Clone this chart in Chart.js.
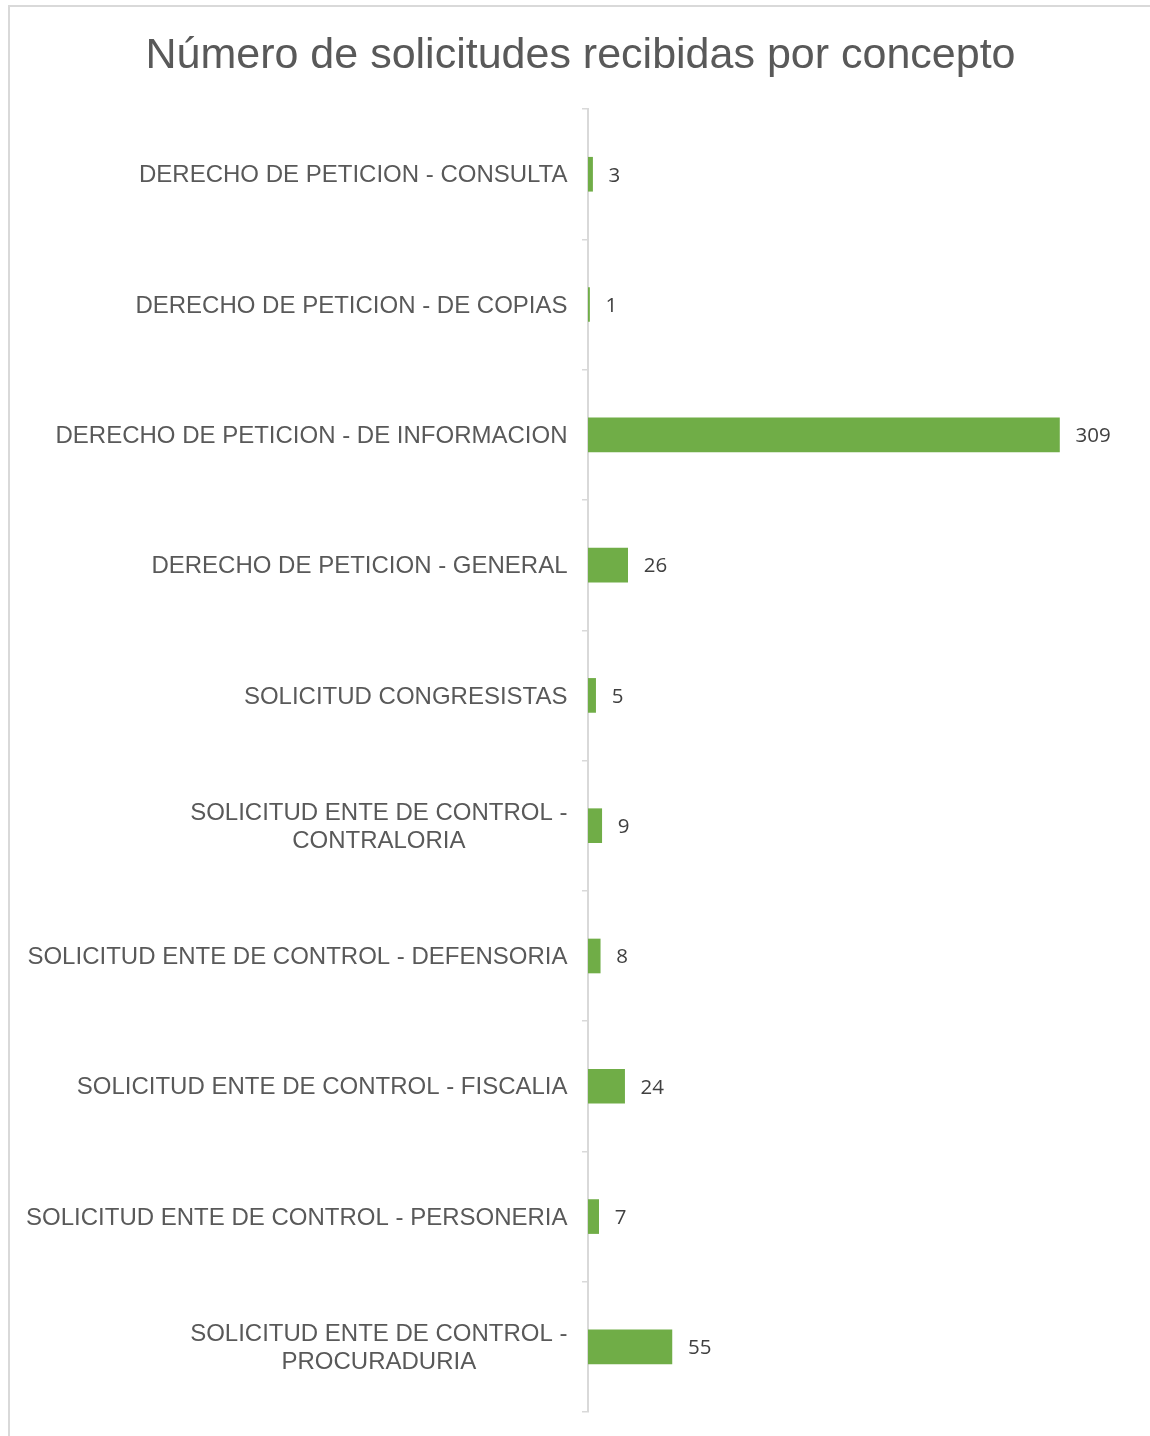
<!DOCTYPE html>
<html>
<head>
<meta charset="utf-8">
<script src="https://cdn.jsdelivr.net/npm/chart.js@4/dist/chart.umd.min.js"></script>
<style>
    body { margin: 0; background: #fff; overflow: hidden; }
    #frame {
        position: absolute; left: 8px; top: 5px;
        width: 1160px; height: 1450px;
        border: 2px solid #d9d9d9;
    }
    #box { position: absolute; left: 0; top: 0; width: 1141px; height: 1429px; }
</style>
</head>
<body>
<div id="frame"><div id="box"><canvas id="myChart"></canvas></div></div>
<script>
// Chart data
const titleText = 'Número de solicitudes recibidas por concepto';
const categories = [
    'DERECHO DE PETICION - CONSULTA',
    'DERECHO DE PETICION - DE COPIAS',
    'DERECHO DE PETICION - DE INFORMACION',
    'DERECHO DE PETICION - GENERAL',
    'SOLICITUD CONGRESISTAS',
    ['SOLICITUD ENTE DE CONTROL -', 'CONTRALORIA'],
    'SOLICITUD ENTE DE CONTROL - DEFENSORIA',
    'SOLICITUD ENTE DE CONTROL - FISCALIA',
    'SOLICITUD ENTE DE CONTROL - PERSONERIA',
    ['SOLICITUD ENTE DE CONTROL -', 'PROCURADURIA']
];
const requestCounts = [3, 1, 309, 26, 5, 9, 8, 24, 7, 55];

const AXIS_X = 578;

// Category labels: right-aligned block, lines centred to each other
const categoryLabels = {
    id: 'categoryLabels',
    afterDraw(chart) {
        const ctx = chart.ctx;
        const scale = chart.scales.y;
        ctx.save();
        ctx.font = '24px "Liberation Sans", Arial, sans-serif';
        ctx.fillStyle = '#595959';
        ctx.textAlign = 'center';
        ctx.textBaseline = 'middle';
        categories.forEach((label, i) => {
            const lines = Array.isArray(label) ? label : [label];
            const maxW = Math.max(...lines.map(l => ctx.measureText(l).width));
            const cx = AXIS_X - 20.5 - maxW / 2;
            const cy = scale.getPixelForTick(i) + 1.5;
            const lh = 28;
            lines.forEach((line, j) => {
                ctx.fillText(line, cx, cy - (lines.length - 1) * lh / 2 + j * lh);
            });
        });
        ctx.restore();
    }
};

// Value labels to the right of each bar
const valueLabels = {
    id: 'valueLabels',
    afterDatasetsDraw(chart) {
        const ctx = chart.ctx;
        const meta = chart.getDatasetMeta(0);
        ctx.save();
        ctx.font = '20.5px "Open Sans", sans-serif';
        ctx.fillStyle = '#404040';
        ctx.textAlign = 'left';
        ctx.textBaseline = 'middle';
        meta.data.forEach((bar, i) => {
            ctx.fillText(String(requestCounts[i]), bar.x + 16, bar.y + 1.5);
        });
        ctx.restore();
    }
};

const ctx = document.getElementById('myChart').getContext('2d');
const chart = new Chart(ctx, {
    type: 'bar',
    data: {
        labels: categories,
        datasets: [{
            data: requestCounts,
            backgroundColor: '#70AD47',
            borderWidth: 0,
            barThickness: 34
        }]
    },
    options: {
        indexAxis: 'y',
        responsive: true,
        maintainAspectRatio: false,
        animation: false,
        layout: { padding: { left: 0, right: 0, top: 0, bottom: 24 } },
        plugins: {
            legend: { display: false },
            tooltip: { enabled: false },
            title: {
                display: true,
                text: titleText,
                color: '#595959',
                font: { family: '"Liberation Sans", Arial, sans-serif', size: 43, weight: 'normal', lineHeight: 1.2 },
                padding: { top: 23, bottom: 27.5 }
            }
        },
        scales: {
            x: { display: false, min: 0, max: 369 },
            y: {
                afterFit(scale) { scale.width = AXIS_X; },
                ticks: { display: false },
                grid: {
                    drawOnChartArea: false,
                    drawTicks: true,
                    tickLength: 6,
                    color: '#d9d9d9',
                    lineWidth: 1.5
                },
                border: { display: true, color: '#d9d9d9', width: 2 }
            }
        }
    },
    plugins: [categoryLabels, valueLabels]
});
</script>
</body>
</html>
